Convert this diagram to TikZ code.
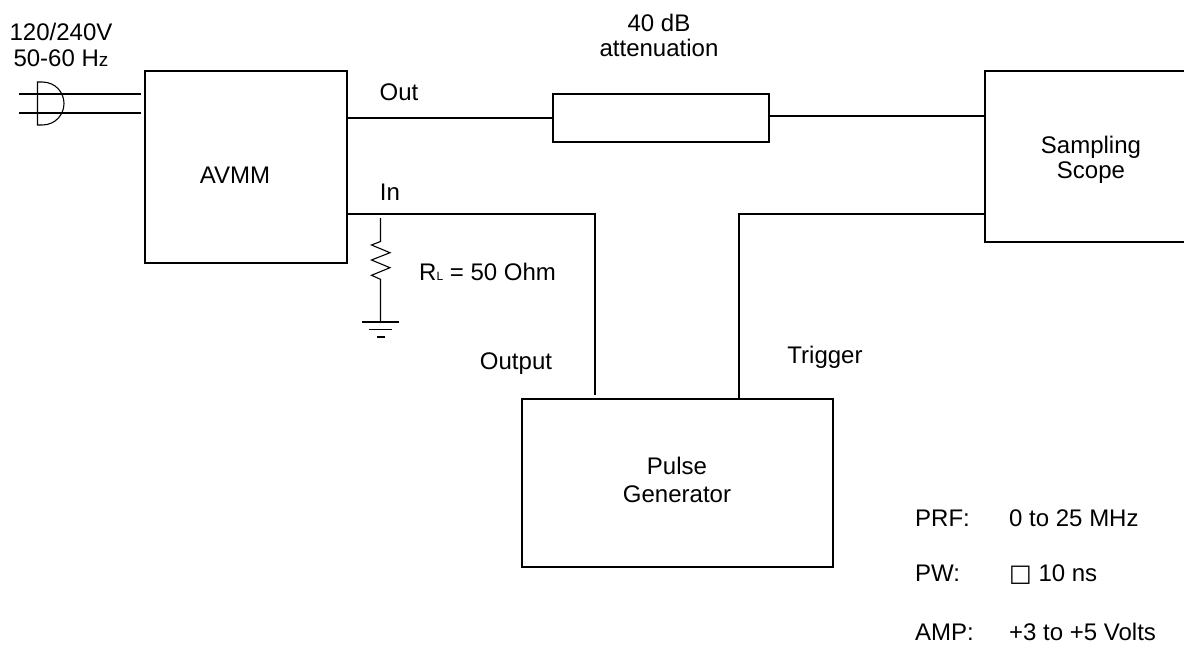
\documentclass[tikz,border=0pt]{standalone}
\usepackage{fontspec}
\setmainfont{Liberation Sans}
\newfontfamily\symfont{DejaVu Sans}
\tikzset{
    blk/.style={rectangle, draw, line width=1.6pt, inner sep=0pt},
    lbl/.style={anchor=base, inner sep=0pt, font=\fontsize{24}{26}\selectfont},
    lbll/.style={lbl, anchor=base west},
    wire/.style={line width=1.6pt},
    thin wire/.style={line width=1.1pt}
}
\begin{document}
\begin{tikzpicture}[x=1pt, y=-1pt]
    \useasboundingbox (0,0) rectangle (1184,648);

    \draw (246,167) node[blk, minimum width=202pt, minimum height=192pt] (avmm) {};
    \draw (661,118) node[blk, minimum width=216pt, minimum height=48pt] (atten) {};
    \draw (1090,156.5) node[blk, minimum width=210pt, minimum height=171pt] (scope) {};
    \draw (677.5,483) node[blk, minimum width=311pt, minimum height=168pt] (pulse) {};

    \draw (61,40) node[lbl] (mains1) {120/240V};
    \draw (61,66) node[lbl] (mains2) {50-60 H{\fontsize{19}{20}\selectfont z}};
    \draw (659,31) node[lbl] (db) {40 dB};
    \draw (659,56) node[lbl] (att) {attenuation};
    \draw (399,100) node[lbl] (out) {Out};
    \draw (390,200) node[lbl] (in) {In};
    \draw (235,183) node[lbl] (avmmtxt) {AVMM};
    \draw (1091,153) node[lbl] (samp) {Sampling};
    \draw (1091,178) node[lbl] (scp) {Scope};
    \draw (677,474) node[lbl] (pls) {Pulse};
    \draw (677,502) node[lbl] (gen) {Generator};
    \draw (516,369) node[lbl] (outp) {Output};
    \draw (825,363) node[lbl] (trig) {Trigger};
    \draw (419,280) node[lbll] (rl) {R{\fontsize{12}{13}\selectfont L} = 50 Ohm};
    \draw (915,526) node[lbll] (prf) {PRF:};
    \draw (1009,526) node[lbll] (prfv) {0 to 25 MHz};
    \draw (915,581) node[lbll] (pw) {PW:};
    \draw (1009,581) node[lbll] (pwv) {{\symfont □} 10 ns};
    \draw (915,640) node[lbll] (amp) {AMP:};
    \draw (1009,640) node[lbll] (ampv) {+3 to +5 Volts};

    \coordinate (inj) at (595,214);
    \coordinate (trj) at (739,214);
    \coordinate (sin) at (985,116);
    \coordinate (sout) at (985,214);
    \coordinate (pin) at (595,395);
    \coordinate (pout) at (739,399);
    \coordinate (p1) at (19,94);
    \coordinate (p2) at (19,113);
    \coordinate (a1) at (141,94);
    \coordinate (a2) at (141,113);
    \coordinate (rtop) at (380.5,218);
    \coordinate (gnd) at (380.5,322);

    \draw[wire] (avmm.east |- atten.west) -- (atten.west);
    \draw[wire] (atten.east |- sin) -- (sin);
    \draw[wire] (avmm.east |- inj) -- (inj) -- (pin);
    \draw[wire] (pout) -- (trj) -- (sout);

    \draw[thin wire] (p1) -- (a1);
    \draw[thin wire] (p2) -- (a2);
    \draw[thin wire] (37.5,82) -- (37.5,125) -- (42,125) .. controls (56,125) and (64,114) .. (64,103.5) .. controls (64,93) and (56,82) .. (42,82) -- cycle;

    \draw[thin wire] (rtop) -- (380.5,241.5) -- (371.5,245) -- (390,252.7) -- (371.5,260) -- (390,267.7) -- (371.5,275.3) -- (380.5,279.3) -- (gnd);
    \draw[thin wire] (362,322) -- (399,322);
    \draw[thin wire] (369,329.5) -- (392,329.5);
    \draw[thin wire] (377,337) -- (385,337);
\end{tikzpicture}
\end{document}
